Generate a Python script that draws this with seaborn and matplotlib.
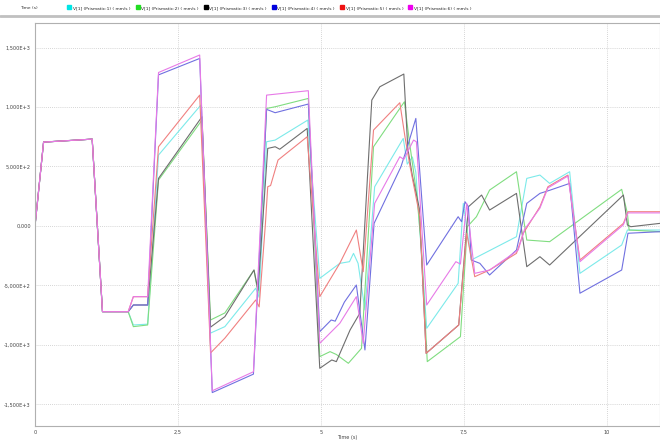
import matplotlib
matplotlib.use("Agg")
from matplotlib import pyplot as plt
from matplotlib.lines import Line2D
import seaborn as sns
import pandas as pd

# time (s) / velocity (mm/s) traces
start_t = [0.0, 0.15, 1.0, 1.18, 1.63]
start_v = [0, 705, 730, -720, -720]

v1_t = start_t + [1.72, 1.97, 2.16, 2.90, 3.07, 3.32, 3.86, 3.92, 4.05, 4.20, 4.77, 4.98,
                  5.33, 5.50, 5.57, 5.65, 5.77, 5.94, 6.44, 6.51, 6.60, 6.66, 6.85, 7.40,
                  7.49, 7.63, 8.42, 8.60, 8.83, 9.00, 9.35, 9.53, 10.26, 10.36, 10.93]
v1_v = start_v + [-832, -825, 596, 1016, -900, -846, -523, -600, 708, 722, 890, -440,
                  -314, -300, -230, -314, -706, 330, 736, 520, 580, 450, -860, -482,
                  190, -286, -90, 400, 428, 358, 456, -398, -160, -34, -34]

v2_t = start_t + [1.72, 1.97, 2.16, 2.92, 3.07, 3.32, 3.83, 3.90, 4.05, 4.20, 4.78, 4.98,
                  5.16, 5.27, 5.48, 5.71, 5.92, 6.46, 6.55, 6.68, 6.76, 6.86, 7.44, 7.56,
                  7.72, 7.95, 8.42, 8.60, 9.00, 10.26, 10.36, 10.39, 10.93]
v2_v = start_v + [-846, -832, 386, 890, -790, -731, -370, -565, 988, 1002, 1072, -1098,
                  -1056, -1080, -1154, -1028, 666, 1044, 700, 250, -200, -1140, -930, -6,
                  78, 302, 456, -118, -132, 308, 106, -34, -48]

v3_t = start_t + [1.72, 1.97, 2.16, 2.92, 3.07, 3.32, 3.83, 3.90, 4.07, 4.20, 4.28, 4.76,
                  4.98, 5.19, 5.27, 5.51, 5.68, 5.89, 6.03, 6.45, 6.52, 6.60, 6.72, 6.84,
                  7.41, 7.58, 7.81, 7.95, 8.42, 8.60, 8.83, 9.00, 10.29, 10.36, 10.42, 10.93]
v3_v = start_v + [-664, -664, 400, 918, -850, -762, -370, -540, 652, 666, 645, 820,
                  -1196, -1126, -1140, -874, -734, 1058, 1170, 1277, 650, 420, 150, -1070,
                  -832, 162, 260, 134, 274, -342, -258, -328, 260, 8, -6, 22]

v4_t = start_t + [1.72, 1.97, 2.16, 2.88, 3.10, 3.82, 4.05, 4.20, 4.78, 4.98, 5.18, 5.25,
                  5.41, 5.62, 5.77, 5.93, 6.40, 6.53, 6.66, 6.85, 7.40, 7.46, 7.52, 7.58,
                  7.63, 7.78, 7.95, 8.42, 8.60, 8.83, 9.00, 9.35, 9.53, 10.26, 10.37, 10.93]
v4_v = start_v + [-664, -664, 1270, 1408, -1400, -1245, 980, 952, 1025, -888, -790, -800,
                  -640, -496, -1042, 22, 498, 694, 904, -328, 78, 36, 204, 162,
                  -286, -314, -412, -202, 190, 274, 300, 358, -565, -370, -61, -48]

v5_t = start_t + [1.72, 1.97, 2.16, 2.88, 3.07, 3.32, 3.86, 3.92, 4.03, 4.07, 4.12, 4.25,
                  4.76, 4.98, 5.33, 5.62, 5.74, 5.92, 6.38, 6.47, 6.56, 6.73, 6.84, 7.41,
                  7.55, 7.69, 7.95, 8.42, 8.54, 8.83, 8.97, 9.32, 9.53, 10.29, 10.37, 10.93]
v5_v = start_v + [-594, -594, 666, 1100, -1067, -943, -622, -680, 22, 330, 340, 554,
                  750, -594, -314, -34, -384, 806, 1036, 750, 498, 78, -1070, -832,
                  -61, -426, -370, -230, -61, 162, 330, 428, -286, 22, 120, 120]

v6_t = start_t + [1.72, 1.97, 2.16, 2.88, 3.10, 3.82, 4.05, 4.78, 4.98, 5.33, 5.62, 5.74,
                  5.94, 6.38, 6.45, 6.62, 6.67, 6.85, 7.36, 7.44, 7.55, 7.69, 7.95, 8.45,
                  8.56, 8.83, 8.97, 9.32, 9.53, 10.29, 10.37, 10.93]
v6_v = start_v + [-594, -594, 1290, 1437, -1385, -1225, 1100, 1137, -986, -818, -594, -986,
                  190, 582, 560, 722, 708, -664, -300, -320, 190, -398, -370, -202,
                  -30, 150, 320, 420, -300, 10, 110, 110]

series_names = ["V[1] (Prismatic:1) ( mm/s )", "V[1] (Prismatic:2) ( mm/s )",
                "V[1] (Prismatic:3) ( mm/s )", "V[1] (Prismatic:4) ( mm/s )",
                "V[1] (Prismatic:5) ( mm/s )", "V[1] (Prismatic:6) ( mm/s )"]
legend_colors = ["#00e5e5", "#22dd22", "#000000", "#0000dd", "#ee1111", "#ee00ee"]
line_colors = ["#7ceaea", "#80dd80", "#6e6e6e", "#7070e0", "#f08080", "#e77ae7"]

x_ticks = [0, 2.5, 5, 7.5, 10]
x_tick_labels = ["0", "2,5", "5", "7,5", "10"]
y_ticks = [1500, 1000, 500, 0, -500, -1000, -1500]
y_tick_labels = ["1,500E+3", "1,000E+3", "5,000E+2", "0,000", "-5,000E+2", "-1,000E+3", "-1,500E+3"]

traces = [(v1_t, v1_v), (v2_t, v2_v), (v3_t, v3_v), (v4_t, v4_v), (v5_t, v5_v), (v6_t, v6_v)]
frames = []
for name, (ts, vs) in zip(series_names, traces):
    frames.append(pd.DataFrame({"t": ts, "v": vs, "series": name}))
df = pd.concat(frames, ignore_index=True)

sns.set_style("white")
fig = plt.figure(figsize=(6.6, 4.41), dpi=100)
ax = fig.add_axes([35 / 660, 15 / 441, 1 - 35 / 660, 403 / 441])

sns.lineplot(data=df, x="t", y="v", hue="series", hue_order=series_names,
             palette=line_colors, estimator=None, sort=False, lw=0.8,
             legend=False, ax=ax)

ax.set_xlim(0, 10.93)
ax.set_ylim(-1681, 1706)
ax.set_xticks(x_ticks)
ax.set_xticklabels(x_tick_labels)
ax.set_yticks(y_ticks)
ax.set_yticklabels(y_tick_labels)
ax.tick_params(labelsize=3.6, colors="#444444", length=0, pad=3)
ax.set_xlabel("Time (s)", fontsize=3.6, color="#444444", labelpad=0)
ax.set_ylabel("")
ax.grid(True, ls=(0, (1, 1.5)), color="#c8c8c8", lw=0.6)
for sp in ax.spines.values():
    sp.set_color("#b0b0b0")
    sp.set_linewidth(0.8)

# header bar with the legend
fig.add_artist(Line2D([0, 1], [1 - 15.5 / 441] * 2, color="#c0c0c0", lw=2.0))
fig.text(20 / 660, 1 - 8 / 441, "Time (s)", fontsize=3.2, color="#333333", va="center")
handles = [Line2D([], [], ls="none", marker="s", ms=3.2, color=c) for c in legend_colors]
fig.legend(handles, series_names, loc="center left", bbox_to_anchor=(68 / 660, 1 - 8 / 441),
           ncol=6, frameon=False, fontsize=3.2, handlelength=0.6, handletextpad=0.5,
           columnspacing=1.3, borderpad=0, borderaxespad=0)

fig.savefig("out.png", dpi=100)
